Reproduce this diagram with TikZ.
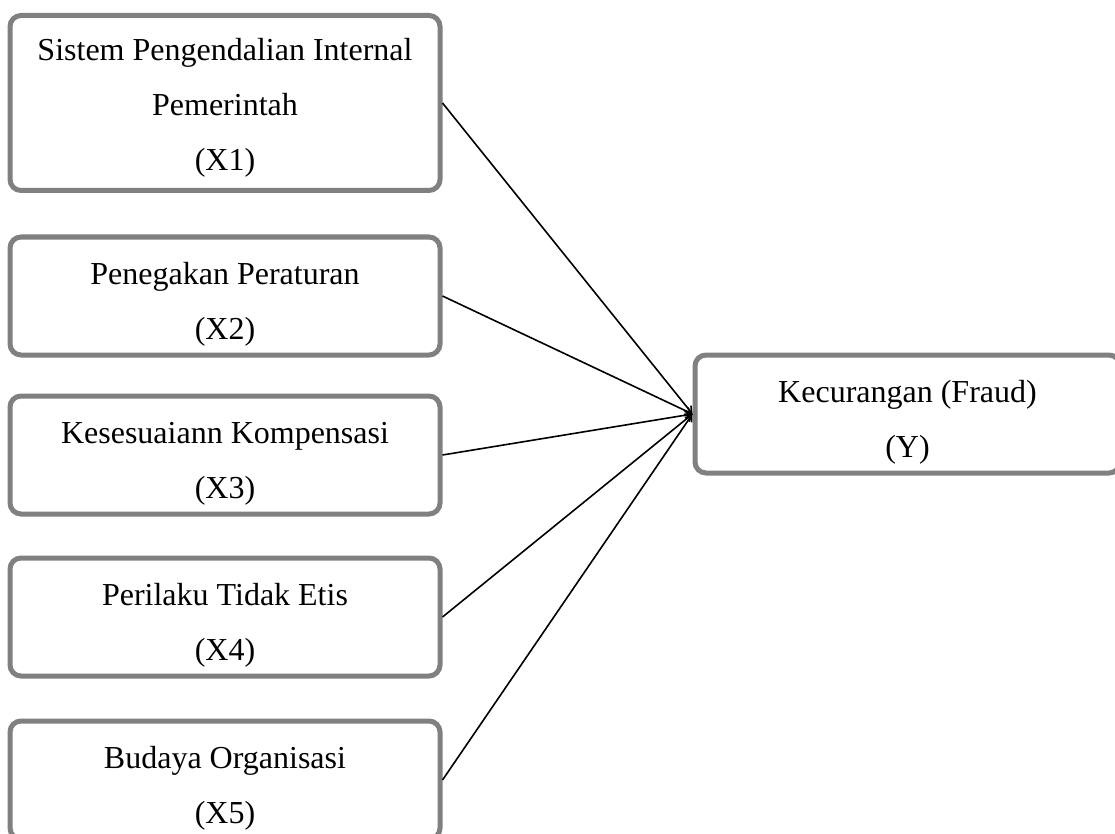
\documentclass[tikz,border=0pt]{standalone}
\usepackage{fontspec}
\setmainfont{Liberation Serif}
\usetikzlibrary{arrows.meta}

% strut on the first line, pushes the text a bit down in its box
\newcommand{\pushdown}{\rule{0pt}{38pt}}

\begin{document}
\begin{tikzpicture}[x=1pt, y=-1pt,
    varbox/.style={
        draw=black!50, % grey border
        line width=5pt,
        rounded corners=11pt,
        fill=white,
        align=center,
        inner sep=0pt,
        font=\fontsize{32}{55}\selectfont
    },
    link/.style={
        draw=black,
        line width=1.6pt,
        -{Straight Barb[length=6pt, width=8pt]}
    }
]

% Define box sizes
\def\boxW{430}
\def\boxH{118}

\useasboundingbox (0,0) rectangle (1115,834);

% --- Independent variables (left column) ---
\node[varbox, minimum width=\boxW, minimum height=175] (x1) at (225,103)
    {\rule{0pt}{32pt}Sistem Pengendalian Internal\\Pemerintah\\(X1)};
\node[varbox, minimum width=\boxW, minimum height=\boxH] (x2) at (225,296)
    {\pushdown Penegakan Peraturan\\(X2)};
\node[varbox, minimum width=\boxW, minimum height=\boxH] (x3) at (225,455)
    {\pushdown Kesesuaiann Kompensasi\\(X3)};
\node[varbox, minimum width=\boxW, minimum height=\boxH] (x4) at (225,617)
    {\pushdown Perilaku Tidak Etis\\(X4)};
\node[varbox, minimum width=\boxW, minimum height=\boxH] (x5) at (225,780)
    {\pushdown Budaya Organisasi\\(X5)};

% --- Dependent variable (right) ---
\node[varbox, minimum width=425, minimum height=\boxH] (fraud) at (907.5,414)
    {\pushdown Kecurangan (Fraud)\\(Y)};

% --- Connectors, all meeting at the left side of Y ---
\foreach \v in {x1,x2,x3,x4,x5}
    \draw[link] (\v.east) -- (fraud.west);

\end{tikzpicture}
\end{document}
